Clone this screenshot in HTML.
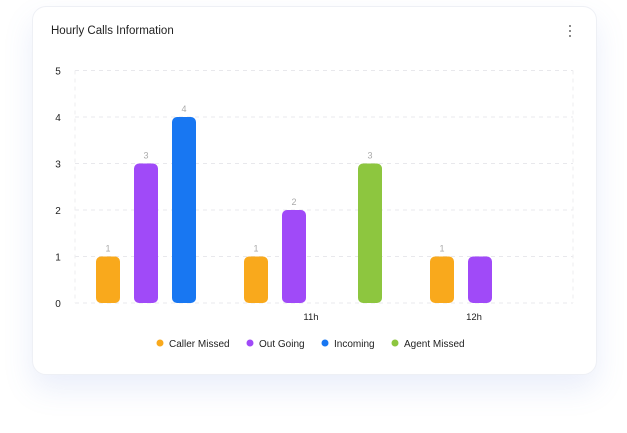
<!DOCTYPE html>
<html><head><meta charset="utf-8"><style>
body{margin:0;width:627px;height:433px;background:#fff;font-family:"Liberation Sans",sans-serif;position:relative;overflow:hidden}
.card{position:absolute;left:32px;top:6px;width:563px;height:367px;background:#fff;border-radius:14px;border:1px solid #eef0f5;box-shadow:0 14px 30px rgba(90,120,220,0.13)}
.title{position:absolute;left:51px;top:25px;font-size:11.5px;color:#222;font-weight:500}
.kebab{position:absolute;left:569px;top:25px;width:4px}
.kebab i{display:block;width:2.4px;height:2.4px;background:#666;border-radius:50%;margin-bottom:2.6px}
svg{position:absolute;left:0;top:0}
</style></head><body>
<div class="card"></div>
<div class="title">Hourly Calls Information</div>
<div class="kebab"><i></i><i></i><i></i></div>
<svg id="c" width="627" height="433"></svg>
<script>
const categories=["10h","11h","12h"];
const seriesNames=["Caller Missed","Out Going","Incoming","Agent Missed"];
const callerMissed=[1,1,1];
const outGoing=[3,2,1];
const incoming=[4,null,null];
const agentMissed=[null,3,null];
const yTicks=[0,1,2,3,4,5];
const xLabels=["","11h","12h"];
const colors=["#f9a91c","#a04af8","#1877f2","#8dc63f"];
const series=[callerMissed,outGoing,incoming,agentMissed];
const NS="http://www.w3.org/2000/svg";
const svg=document.getElementById('c');
const y0=303,unit=46.5;
const y=v=>y0-v*unit;
const groupStart=[96,244,430];
const xLabelPos=[160,311,474];
function mk(t,a){const e=document.createElementNS(NS,t);for(const k in a)e.setAttribute(k,a[k]);svg.appendChild(e);return e;}
yTicks.forEach(t=>{
 const l=mk('line',{x1:75,x2:573,y1:y(t),y2:y(t),stroke:'#e8e8ec','stroke-dasharray':'4 4'});
 
 
 const tx=mk('text',{x:58,y:y(t)+4,'font-size':10,fill:'#222','text-anchor':'middle'});
 tx.textContent=t;
 
 
});
[75,573].forEach((xx,i)=>{const l=mk('line',{x1:xx,x2:xx,y1:y(5),y2:y0,stroke:'#eeeeef','stroke-dasharray':'4 4'});
 
 });
categories.forEach((c,g)=>{
 series.forEach((s,si)=>{
  const v=s[g]; if(v==null) return;
  const x=groupStart[g]+si*38;
  const r=mk('rect',{x:x,y:y(v),width:24,height:y0-y(v),rx:5,fill:colors[si]});
  
  
  if(!(g==2&&si==1)){
   const t=mk('text',{x:x+12,y:y(v)-5,'font-size':9,fill:'#aaa','text-anchor':'middle'});
   t.textContent=v;
   
   
  }
 });
 const t=mk('text',{x:xLabelPos[g],y:320,'font-size':9.5,fill:'#222','text-anchor':'middle'});
 t.textContent=xLabels[g];
 
 
});
const legX=[160,250,325,395];
seriesNames.forEach((n,i)=>{
 const c=mk('circle',{cx:legX[i],cy:343,r:3.5,fill:colors[i]});
 
 
 const t=mk('text',{x:legX[i]+9,y:347,'font-size':10,fill:'#222'});
 t.textContent=n;
 
 
});
</script>
</body></html>
